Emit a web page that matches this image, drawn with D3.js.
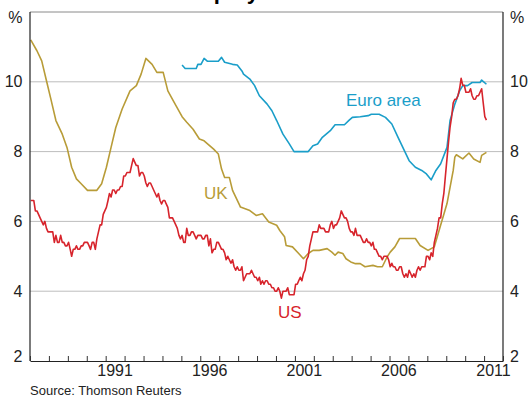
<!DOCTYPE html>
<html>
<head>
<meta charset="utf-8">
<script src="https://cdn.jsdelivr.net/npm/d3@7"></script>
<style>
  body { margin: 0; background: #fff; }
  text { font-family: Arial, "Liberation Sans", sans-serif; }
</style>
</head>
<body>
<div id="chart"></div>
<script>
// US unemployment rate, monthly from Jan 1987
const usStart = "1987-01";
const usValues = [
  6.6,6.6,6.6,6.3,6.3,6.2,6.1,6.0,5.9,6.0,5.8,5.7,
  5.7,5.7,5.7,5.4,5.6,5.4,5.4,5.6,5.4,5.4,5.3,5.3,
  5.4,5.2,5.0,5.2,5.2,5.3,5.2,5.2,5.3,5.3,5.4,5.4,
  5.4,5.3,5.2,5.4,5.4,5.2,5.5,5.7,5.9,5.9,6.2,6.3,
  6.4,6.6,6.8,6.7,6.9,6.9,6.8,6.9,6.9,7.0,7.0,7.3,
  7.3,7.4,7.4,7.4,7.6,7.8,7.7,7.6,7.6,7.3,7.4,7.4,
  7.3,7.1,7.0,7.1,7.1,7.0,6.9,6.8,6.7,6.8,6.6,6.5,
  6.6,6.6,6.5,6.4,6.1,6.1,6.1,6.0,5.9,5.8,5.6,5.5,
  5.6,5.4,5.4,5.8,5.6,5.6,5.7,5.7,5.6,5.5,5.6,5.6,
  5.6,5.5,5.5,5.6,5.6,5.3,5.5,5.1,5.2,5.2,5.4,5.4,
  5.3,5.2,5.2,5.1,4.9,5.0,4.9,4.8,4.9,4.7,4.6,4.7,
  4.6,4.6,4.7,4.3,4.4,4.5,4.5,4.5,4.6,4.5,4.4,4.4,
  4.3,4.4,4.2,4.3,4.2,4.3,4.3,4.2,4.2,4.1,4.1,4.0,
  4.0,4.1,4.0,3.8,4.0,4.0,4.0,4.1,3.9,3.9,3.9,3.9,
  4.2,4.2,4.3,4.4,4.3,4.5,4.6,4.9,5.0,5.3,5.5,5.7,
  5.7,5.7,5.7,5.9,5.8,5.8,5.8,5.7,5.7,5.7,5.9,6.0,
  5.8,5.9,5.9,6.0,6.1,6.3,6.2,6.1,6.1,6.0,5.8,5.7,
  5.7,5.6,5.8,5.6,5.6,5.6,5.5,5.4,5.4,5.5,5.4,5.4,
  5.3,5.4,5.2,5.2,5.1,5.0,5.0,4.9,5.0,5.0,5.0,4.9,
  4.7,4.8,4.7,4.7,4.6,4.6,4.7,4.7,4.5,4.4,4.5,4.4,
  4.6,4.5,4.4,4.5,4.4,4.6,4.7,4.6,4.7,4.7,4.7,5.0,
  5.0,4.9,5.1,5.0,5.4,5.6,5.8,6.1,6.1,6.5,6.8,7.3,
  7.8,8.3,8.7,9.0,9.4,9.5,9.5,9.6,9.8,10.1,9.9,9.9,
  9.7,9.7,9.7,9.8,9.6,9.5,9.5,9.6,9.6,9.7,9.8,9.4,
  9.0,8.9
];

// UK
const ukMonths = ["1987-01","1987-05","1987-08","1987-11","1988-02","1988-05","1988-09","1988-12",
  "1989-03","1989-06","1989-09","1990-01","1990-07","1990-10","1991-01","1991-04","1991-07","1991-11",
  "1992-04","1992-08","1992-11","1993-02","1993-06","1993-09","1994-01","1994-04","1994-08",
  "1995-01","1995-04","1995-08","1995-12","1996-03","1996-09","1996-12","1997-02","1997-04","1997-07","1997-09",
  "1998-01","1998-02","1998-08","1998-12","1999-04","1999-08","2000-01","2000-03","2000-06","2000-07","2000-11",
  "2001-03","2001-06","2001-09","2001-12","2002-04","2002-09","2002-12","2003-02","2003-04","2003-07","2003-09","2003-12",
  "2004-03","2004-06","2004-09","2005-02","2005-05","2005-08","2005-11","2006-01","2006-04","2006-07",
  "2007-05","2007-08","2008-01","2008-05","2008-08","2009-01","2009-05","2009-06","2009-07","2009-11",
  "2010-03","2010-06","2010-10","2010-11","2011-02"];
const ukValues = [11.2,10.89,10.6,10.03,9.46,8.89,8.5,8.12,
  7.55,7.22,7.08,6.89,6.89,7.08,7.55,8.12,8.69,9.22,
  9.74,9.89,10.22,10.67,10.5,10.27,10.27,9.74,9.41,
  9.0,8.84,8.64,8.36,8.31,8.07,7.93,7.5,7.26,7.26,6.89,
  6.51,6.41,6.31,6.17,6.22,5.98,5.89,5.74,5.56,5.31,5.27,
  5.08,4.93,5.08,5.17,5.17,5.22,5.12,5.03,5.12,5.08,4.93,4.84,
  4.79,4.79,4.7,4.74,4.7,4.7,4.98,5.12,5.27,5.51,
  5.51,5.31,5.17,5.27,5.74,6.51,7.46,7.84,7.91,7.79,
  7.96,7.79,7.69,7.89,7.98];

// Euro area
const euroMonths = ["1995-01","1995-03","1995-10","1995-11","1996-01","1996-03","1996-05","1996-12",
  "1997-02","1997-04","1997-09","1997-12","1998-03","1998-04","1998-08","1998-11","1999-02","1999-07","1999-10",
  "2000-01","2000-05","2000-09","2000-12","2001-09","2001-12","2002-03","2002-06","2002-11",
  "2003-02","2003-08","2003-11","2004-01","2004-06","2004-11","2005-01","2005-06","2005-10",
  "2006-02","2006-06","2006-09","2007-01","2007-05","2007-09","2007-12","2008-03","2008-06","2008-09",
  "2009-01","2009-03","2009-06","2009-09","2009-11","2010-02","2010-05","2010-10","2010-11","2011-02"];
const euroValues = [10.48,10.38,10.38,10.5,10.5,10.67,10.59,10.59,
  10.7,10.56,10.5,10.48,10.31,10.22,10.08,9.89,9.6,9.36,9.17,
  8.89,8.5,8.22,8.0,8.0,8.17,8.22,8.41,8.6,
  8.77,8.77,8.9,8.98,9.0,9.03,9.07,9.07,8.98,
  8.79,8.41,8.12,7.74,7.55,7.46,7.36,7.19,7.46,7.65,
  8.12,8.89,9.36,9.74,9.89,9.89,9.98,9.98,10.05,9.93];

const yTicks = [2, 4, 6, 8, 10];
const gridValues = [4, 6, 8, 10];
const yearLabels = [1991, 1996, 2001, 2006, 2011];
const titleText = "Unemployment Rates";
const sourceText = "Source: Thomson Reuters";

const w = 528;
const h = 406;
const plotLeft = 30, plotRight = 503, plotTop = 12, plotBottom = 361;

const parseMonth = d3.timeParse("%Y-%m");
// monthly observations sit in the middle of their month
const midMonth = d => d3.timeDay.offset(d, 14);

const usData = usValues.map((v, i) => ({ date: midMonth(d3.timeMonth.offset(parseMonth(usStart), i)), value: v }));
const ukData = ukMonths.map((m, i) => ({ date: midMonth(parseMonth(m)), value: ukValues[i] }));
const euroData = euroMonths.map((m, i) => ({ date: midMonth(parseMonth(m)), value: euroValues[i] }));

const xScale = d3.scaleTime()
  .domain([new Date(1987, 0, 1), new Date(2012, 0, 1)])
  .range([plotLeft, plotRight]);

const yScale = d3.scaleLinear()
  .domain([2, 12])
  .range([plotBottom, plotTop]);

const svg = d3.select("#chart")
  .append("svg")
  .attr("width", w)
  .attr("height", h);

// title, mostly above the visible area
svg.append("text")
  .attr("x", 265)
  .attr("y", -1.5)
  .attr("text-anchor", "middle")
  .attr("font-size", 22)
  .attr("font-weight", "bold")
  .text(titleText);

// horizontal grid
svg.selectAll("line.grid")
  .data(gridValues)
  .enter()
  .append("line")
  .attr("class", "grid")
  .attr("x1", plotLeft)
  .attr("x2", plotRight)
  .attr("y1", d => yScale(d))
  .attr("y2", d => yScale(d))
  .attr("stroke", "#bdbdbd")
  .attr("stroke-width", 1);

// top border
svg.append("line")
  .attr("x1", plotLeft).attr("x2", plotRight)
  .attr("y1", yScale(12)).attr("y2", yScale(12))
  .attr("stroke", "#8a8a8a")
  .attr("stroke-width", 1);

// series
const line = d3.line()
  .x(d => xScale(d.date))
  .y(d => yScale(d.value));

const series = [
  { data: ukData, color: "#b89c38" },
  { data: euroData, color: "#1a9ec9" },
  { data: usData, color: "#d7242c" }
];

series.forEach(s => {
  svg.append("path")
    .datum(s.data)
    .attr("fill", "none")
    .attr("stroke", s.color)
    .attr("stroke-width", 1.6)
    .attr("stroke-linejoin", "round")
    .attr("d", line);
});

// side borders
[plotLeft, plotRight].forEach(x => {
  svg.append("line")
    .attr("x1", x).attr("x2", x)
    .attr("y1", plotTop).attr("y2", plotBottom)
    .attr("stroke", "#222")
    .attr("stroke-width", 1.2);
});

// x axis with inward year ticks
const xAxis = d3.axisBottom(xScale)
  .ticks(d3.timeYear.every(1))
  .tickSize(-5)
  .tickSizeOuter(0)
  .tickFormat("");

const gx = svg.append("g")
  .attr("transform", `translate(0, ${plotBottom})`)
  .call(xAxis);
gx.select(".domain").attr("stroke", "#222").attr("stroke-width", 1.2);
gx.selectAll(".tick line").attr("stroke", "#333");

svg.selectAll("text.year")
  .data(yearLabels)
  .enter()
  .append("text")
  .attr("class", "year")
  .attr("x", d => xScale(new Date(d, 6, 1)))
  .attr("y", 376)
  .attr("text-anchor", "middle")
  .attr("font-size", 16)
  .attr("fill", "#222")
  .text(d => d);

// y labels both sides
const yLab = d => yScale(d) - (d === 2 ? 5 : 0);

svg.selectAll("text.yl")
  .data(yTicks)
  .enter()
  .append("text")
  .attr("class", "yl")
  .attr("x", 22.5)
  .attr("y", yLab)
  .attr("dy", "0.35em")
  .attr("text-anchor", "end")
  .attr("font-size", 16)
  .attr("fill", "#222")
  .text(d => d);

svg.selectAll("text.yr")
  .data(yTicks)
  .enter()
  .append("text")
  .attr("class", "yr")
  .attr("x", 510)
  .attr("y", yLab)
  .attr("dy", "0.35em")
  .attr("text-anchor", "start")
  .attr("font-size", 16)
  .attr("fill", "#222")
  .text(d => d);

svg.append("text")
  .attr("x", 22.5).attr("y", 23)
  .attr("text-anchor", "end")
  .attr("font-size", 16)
  .attr("fill", "#222")
  .text("%");

svg.append("text")
  .attr("x", 510).attr("y", 23)
  .attr("font-size", 16)
  .attr("fill", "#222")
  .text("%");

// series labels
const labels = [
  { text: "Euro area", x: 346, y: 106, color: "#1a9ec9" },
  { text: "UK", x: 204, y: 199, color: "#b89c38" },
  { text: "US", x: 278, y: 318, color: "#d7242c" }
];

svg.selectAll("text.lab")
  .data(labels)
  .enter()
  .append("text")
  .attr("class", "lab")
  .attr("x", d => d.x)
  .attr("y", d => d.y)
  .attr("font-size", 17)
  .attr("fill", d => d.color)
  .text(d => d.text);

svg.append("text")
  .attr("x", 30)
  .attr("y", 395)
  .attr("font-size", 13)
  .attr("fill", "#222")
  .text(sourceText);
</script>
</body>
</html>
